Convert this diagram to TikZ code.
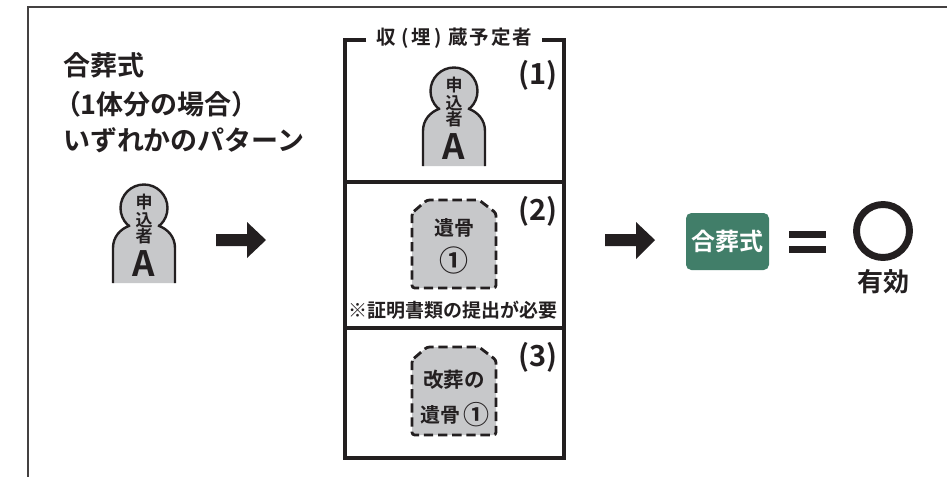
\documentclass[tikz,border=0pt]{standalone}
\usepackage{fontspec}
\setmainfont{Noto Sans CJK JP}[BoldFont={* Bold}]
\newfontfamily\jpb{Noto Sans CJK JP Bold}
\definecolor{ink}{HTML}{231F20}
\definecolor{stone}{HTML}{C7C8CA}
\definecolor{grn}{HTML}{417E69}
\newcommand{\pxfont}[1]{\fontsize{\dimexpr#1pt*3/4\relax}{\dimexpr#1pt*3/4\relax}\selectfont}
\tikzset{
  txt/.style={inner sep=0pt,outer sep=0pt,text=ink,align=center,font=\jpb},
  personline/.style={draw=ink,line width=1.8pt,fill=stone},
  tomb/.style={draw=ink,line width=2.1pt,fill=stone,dash pattern=on 7pt off 3.6pt,line join=round},
  framebar/.style={draw=ink,line width=3.2pt},
  blockarrow/.style={fill=ink,draw=none},
}
\newcommand{\person}[3]{% x, y of head centre, name
  \begin{scope}[shift={(#1,#2)}]
    \draw[personline] (0,0) circle (23.5);
    \fill[stone] (-31,75) -- (-31,40) .. controls (-31,29) and (-24,21) .. (-13.5,17.5) -- (-13,10) -- (13,10) -- (13.5,17.5) .. controls (24,21) and (31,29) .. (31,40) -- (31,75) -- cycle;
    \draw[draw=ink,line width=1.8pt] (-31,75) -- (-31,40) .. controls (-31,29) and (-24,21) .. (-14,17.5);
    \draw[draw=ink,line width=1.8pt] (31,75) -- (31,40) .. controls (31,29) and (24,21) .. (14,17.5);
    \node[txt,font=\jpb\pxfont{17}] (#3a) at (0,-6) {申};
    \node[txt,font=\jpb\pxfont{17}] (#3b) at (0,12.5) {込};
    \node[txt,font=\jpb\pxfont{17}] (#3c) at (0,28.5) {者};
    \node[txt,font=\jpb\pxfont{35}] (#3d) at (0,56) {A};
  \end{scope}
}
\newcommand{\tombstone}[2]{% x-left, y-top
  \begin{scope}[shift={(#1,#2)}]
    \path[tomb,rounded corners=2pt] (0,13) -- (15,0) -- (67,0) -- (84,13) -- (84,88) -- (0,88) -- cycle;
  \end{scope}
}
\begin{document}
\begin{tikzpicture}[x=0.75pt,y=-0.75pt]
\useasboundingbox (0,0) rectangle (947,476);
\fill[white] (0,0) rectangle (947,476);
% outer frame
\draw[draw=ink!85,line width=1.5pt] (28,480) -- (28,7) -- (947,7);
% heading
\node[txt,anchor=west,font=\jpb\pxfont{27}] (h1) at (63,65) {合葬式};
\node[txt,anchor=west,font=\jpb\pxfont{27}] (h2) at (54,104) {（1体分の場合）};
\node[txt,anchor=west,font=\jpb\pxfont{27}] (h3) at (63,140) {いずれかのパターン};
% left person
\person{144}{208}{p}
% arrows
\path[blockarrow] (216,234) -- (247,234) -- (247,222) -- (266,240) -- (247,258) -- (247,246) -- (216,246) -- cycle;
\path[blockarrow] (605,234) -- (636,234) -- (636,222) -- (655,240) -- (636,259) -- (636,246) -- (605,246) -- cycle;
% box
\draw[framebar] (366,40) -- (345,40) -- (345,458) -- (564,458) -- (564,40) -- (542,40);
\draw[framebar] (345,182) -- (564,182);
\draw[framebar] (345,328) -- (564,328);
\node[txt,font=\jpb\pxfont{19.5}] (title) at (454.5,38) {収\kern4pt(\kern2pt埋\kern2pt)\kern5pt蔵\kern1.5pt予\kern1.5pt定\kern1.5pt者};
\node[txt,font=\jpb\pxfont{29}] (n1) at (538,75) {(1)};
\node[txt,font=\jpb\pxfont{29}] (n2) at (538,211) {(2)};
\node[txt,font=\jpb\pxfont{29}] (n3) at (538,357) {(3)};
% row 1
\person{454}{91}{q}
% row 2
\tombstone{412}{200}
\node[txt,font=\jpb\pxfont{20}] (t2a) at (454,228) {遺骨};
\node[txt,font=\jpb\pxfont{29}] (t2b) at (454,260) {①};
\node[txt,font=\jpb\pxfont{19}] (note) at (452.5,310) {※証明書類の提出が必要};
% row 3
\tombstone{412}{347}
\node[txt,font=\jpb\pxfont{20.5}] (t3a) at (454,380) {改葬の};
\node[txt,font=\jpb\pxfont{20}] (t3b) at (440,415) {遺骨};
\node[txt,font=\jpb\pxfont{26}] (t3c) at (476,415) {①};
% result
\node[fill=grn,rounded corners=4pt,minimum width=62.25pt,minimum height=42.75pt,inner sep=0pt,text=white,font=\jpb\pxfont{24}] (g) at (727.5,241.5) {合葬式};
\fill[ink] (789,231) rectangle (826,238);
\fill[ink] (789,246) rectangle (826,253);
\draw[ink,line width=5.2pt] (883,231) circle (26.5);
\node[txt,font=\jpb\pxfont{26}] (ok) at (883,282) {有効};
\end{tikzpicture}
\end{document}
